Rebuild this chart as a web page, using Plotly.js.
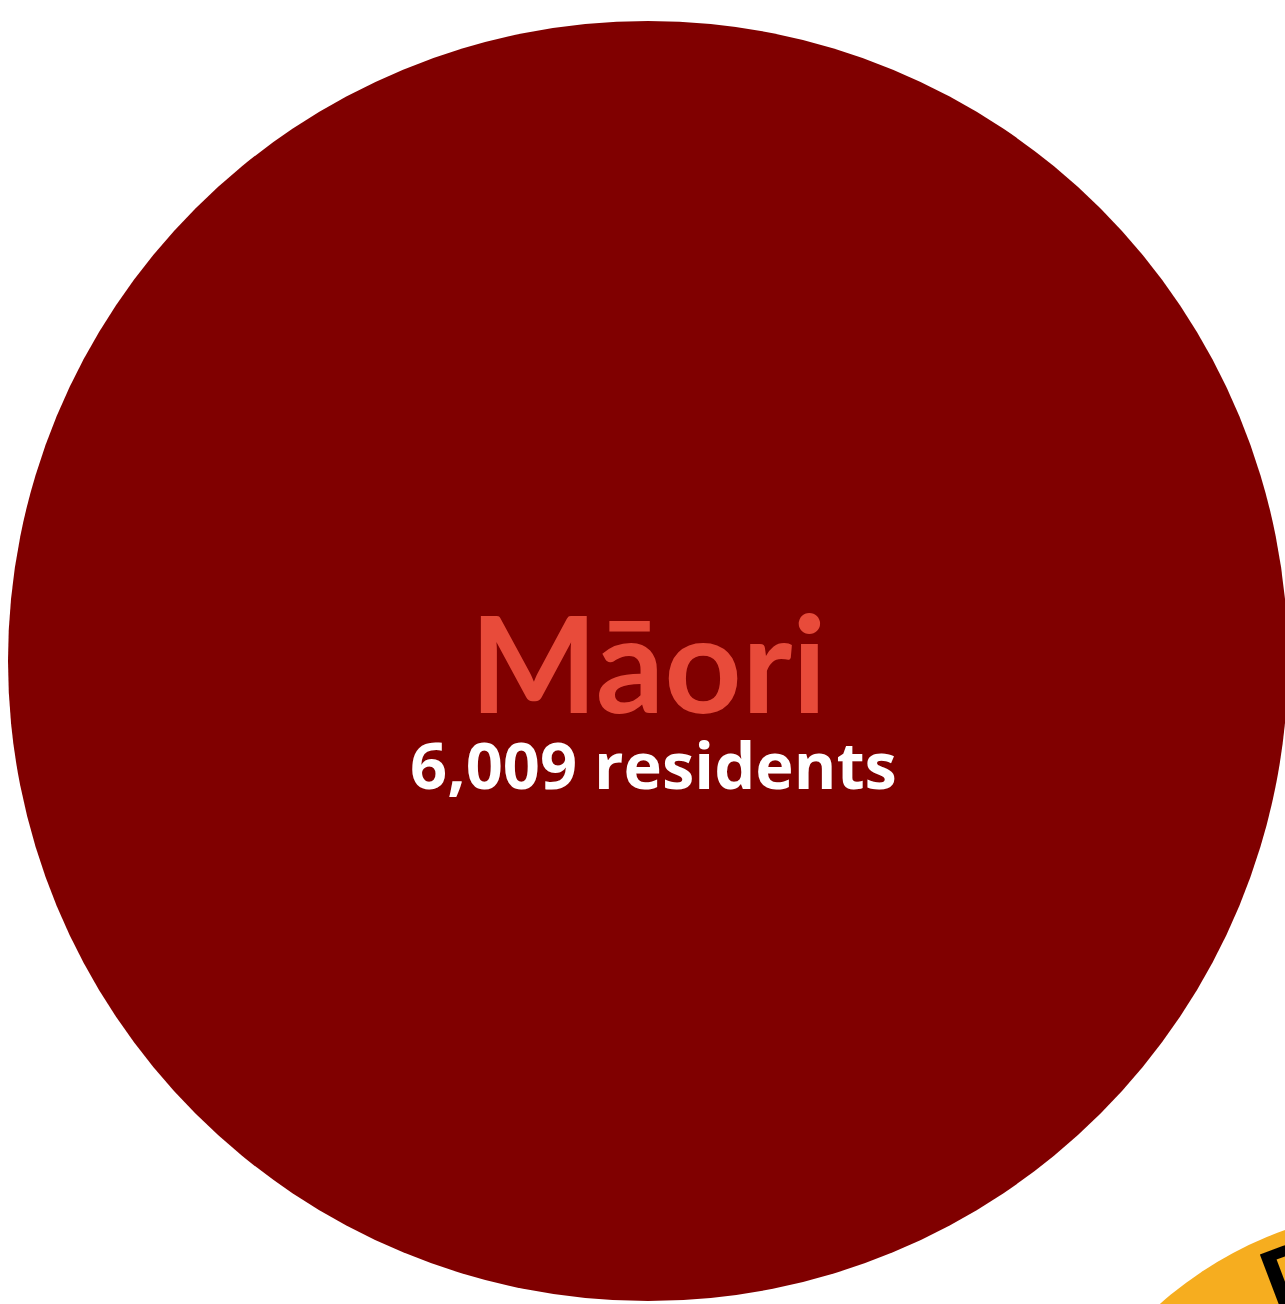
<!DOCTYPE html>
<html>
<head>
<meta charset="utf-8">
<script src="https://cdn.plot.ly/plotly-3.0.1.min.js"></script>
<style>
html, body { margin: 0; padding: 0; background: #ffffff; overflow: hidden; }
#chart { width: 1285px; height: 1304px; }
</style>
</head>
<body>
<div id="chart"></div>
<script>
// ---- data ----
const groups = ["Māori", "Pacific"];
const residents = [6009, 2118];
const unitLabel = "residents";

// ---- style / layout constants ----
const W = 1285, H = 1304;
const fillColors = ["#800000", "#F6AD1F"];
const nameColor = "#E84B3A";
const focusCenter = { x: 648, y: 661 };   // pixel centre of the focused bubble
const maxRadius = 640;                    // pixel radius of the focused bubble
const neighbourAngleDeg = 50.5;           // direction of the neighbour bubble
const neighbourGap = 181.5;               // pixel gap between the bubbles
const arcFontSize = 103;
const arcFont = "Lato";
const arcInset = 11;

// radius scale: area proportional to residents
const maxVal = Math.max.apply(null, residents);
const k = maxRadius / Math.sqrt(maxVal);
const radii = residents.map(v => k * Math.sqrt(v));

// centres: largest bubble focused, others placed around it
const centers = residents.map((v, i) => {
  if (i === 0) return { x: focusCenter.x, y: focusCenter.y };
  const d = radii[0] + radii[i] + neighbourGap;
  const a = neighbourAngleDeg * Math.PI / 180;
  return { x: focusCenter.x + d * Math.cos(a), y: focusCenter.y + d * Math.sin(a) };
});

const shapes = groups.map((g, i) => ({
  type: "circle", xref: "x", yref: "y", layer: "below",
  x0: centers[i].x - radii[i], x1: centers[i].x + radii[i],
  y0: centers[i].y - radii[i], y1: centers[i].y + radii[i],
  fillcolor: fillColors[i], line: { width: 0 }
}));

const annotations = [];
// focused bubble: centred label
annotations.push({
  xref: "x", yref: "y", x: centers[0].x, y: centers[0].y,
  xanchor: "center", yanchor: "middle", showarrow: false,
  text: groups[0],
  font: { family: "Lato", size: 135, color: nameColor, weight: 700 }
});
annotations.push({
  xref: "x", yref: "y", x: centers[0].x + 5, y: centers[0].y + 103,
  xanchor: "center", yanchor: "middle", showarrow: false,
  text: residents[0].toLocaleString("en-US") + " " + unitLabel,
  font: { family: "Open Sans", size: 65, color: "#ffffff", weight: 700 }
});

// other bubbles: label along the top arc (one rotated letter at a time)
const canvas = document.createElement("canvas");
const ctx = canvas.getContext("2d");
ctx.font = "700 " + arcFontSize + "px " + arcFont;
for (let i = 1; i < groups.length; i++) {
  const chars = Array.from(groups[i]);
  const widths = chars.map(c => ctx.measureText(c).width);
  const total = widths.reduce((a, b) => a + b, 0);
  const rc = radii[i] - arcInset - arcFontSize * 0.36;
  let s = -total / 2;
  chars.forEach((c, j) => {
    const mid = s + widths[j] / 2;
    s += widths[j];
    const ang = -Math.PI / 2 + mid / rc;
    const px = centers[i].x + rc * Math.cos(ang);
    const py = centers[i].y + rc * Math.sin(ang);
    // keep the anchor inside the axis range so the annotation is drawn,
    // and shift the text by the remaining pixels
    const ax = Math.min(Math.max(px, 0), W - 1);
    const ay = Math.min(Math.max(py, 0), H - 1);
    annotations.push({
      xref: "x", yref: "y", x: ax, y: ay,
      xshift: px - ax, yshift: -(py - ay),
      xanchor: "center", yanchor: "middle", showarrow: false,
      textangle: (ang + Math.PI / 2) * 180 / Math.PI,
      text: c,
      font: { family: arcFont, size: arcFontSize, color: "#000000", weight: 700 }
    });
  });
}

const trace = {
  type: "scatter", mode: "markers",
  x: centers.map(c => c.x), y: centers.map(c => c.y),
  text: groups.map((g, i) => g + ": " + residents[i].toLocaleString("en-US") + " " + unitLabel),
  hoverinfo: "text",
  marker: { size: 10, opacity: 0 },
  showlegend: false
};

const layout = {
  width: W, height: H,
  margin: { l: 0, r: 0, t: 0, b: 0, pad: 0 },
  paper_bgcolor: "#ffffff", plot_bgcolor: "#ffffff",
  xaxis: { range: [0, W], visible: false, showgrid: false, zeroline: false, fixedrange: true },
  yaxis: { range: [H, 0], visible: false, showgrid: false, zeroline: false, fixedrange: true },
  shapes: shapes,
  annotations: annotations,
  showlegend: false
};

Plotly.newPlot("chart", [trace], layout, { displayModeBar: false, responsive: false });
</script>
</body>
</html>
